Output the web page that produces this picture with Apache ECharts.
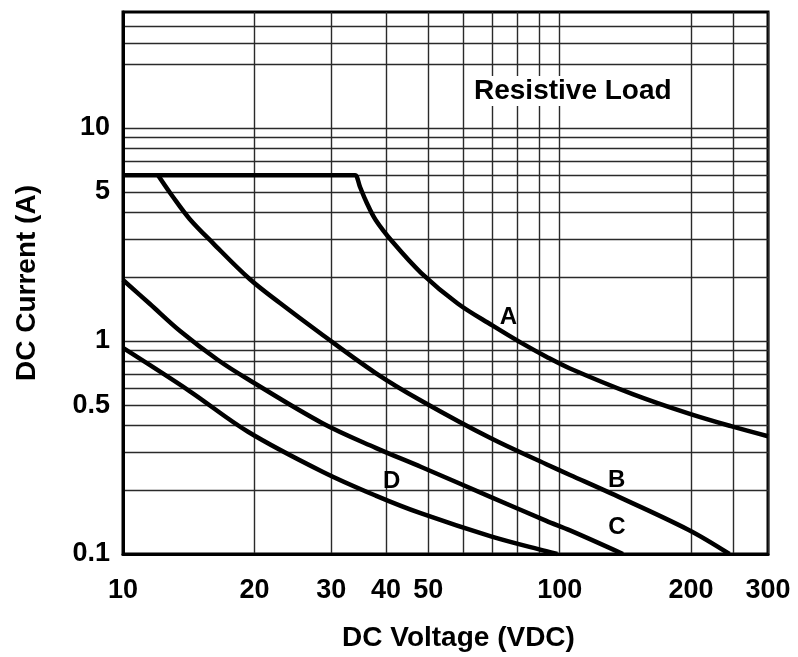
<!DOCTYPE html>
<html>
<head>
<meta charset="utf-8">
<script src="https://cdn.jsdelivr.net/npm/echarts@6/dist/echarts.min.js"></script>
<style>
  html, body { margin: 0; padding: 0; background: #fff; }
  #chart { width: 798px; height: 657px; }
</style>
</head>
<body>
<div id="chart"></div>
<script>
// DC switching capacity, resistive load: current (A) against voltage (VDC), log-log.

// Curve A (includes the 6 A ceiling from 10 V)
const curveA_V = [10, 33.1, 34.0, 34.9, 36.0, 37.9, 41.6, 48.2, 58.4, 70.1, 81.5, 93.2, 105.6, 147, 197, 246.8, 300];
const curveA_I = [6.0, 6.0, 6.0, 5.28, 4.54, 3.70, 2.89, 2.084, 1.50, 1.183, 0.982, 0.844, 0.743, 0.563, 0.457, 0.398, 0.357];

// Curve B
const curveB_V = [12.03, 13.02, 14.21, 16.07, 19.5, 22.88, 28.26, 37.9, 48.2, 69.6, 93.2, 105.6, 130.8, 197, 244.8];
const curveB_I = [6.0, 4.74, 3.74, 2.88, 1.954, 1.507, 1.09, 0.707, 0.524, 0.349, 0.264, 0.235, 0.193, 0.130, 0.1];

// Curve C
const curveC_V = [10, 11.53, 13.51, 16.5, 19.33, 28.63, 37.9, 48.2, 69.6, 93.2, 105.6, 139.6];
const curveC_I = [1.932, 1.491, 1.114, 0.814, 0.661, 0.411, 0.315, 0.256, 0.185, 0.143, 0.129, 0.1];

// Curve D
const curveD_V = [10, 14.2, 19.33, 28.63, 37.9, 48.2, 69.6, 93.2, 98.8];
const curveD_I = [0.927, 0.582, 0.375, 0.2434, 0.188, 0.155, 0.121, 0.103, 0.1];

// Axis grid and label values
const xGridValues = [10, 20, 30, 40, 50, 60, 70, 80, 90, 100, 200, 250, 300];
const xLabelValues = [10, 20, 30, 40, 50, 100, 200, 300];
const yGridValues = [0.1, 0.2, 0.3, 0.4, 0.5, 0.6, 0.7, 0.8, 0.9, 1, 2, 3, 4, 5, 6, 7, 8, 9, 10, 20, 25, 30];
const yLabelValues = [0.1, 0.5, 1, 5, 10];

const FONT = '"Liberation Sans", Arial, Helvetica, sans-serif';

function pairs(xs, ys) {
  return xs.map((x, i) => [x, ys[i]]);
}

// Curve letter placed next to one point of its own curve
function curveTag(name, xs, ys, idx, offset) {
  return {
    symbol: 'circle',
    symbolSize: 1,
    itemStyle: { color: 'rgba(0,0,0,0)' },
    label: {
      show: true,
      formatter: name,
      offset: offset,
      color: '#000',
      fontFamily: FONT,
      fontWeight: 'bold',
      fontSize: 24
    },
    data: [{ coord: [xs[idx], ys[idx]] }]
  };
}

function curveSeries(name, xs, ys, tag) {
  return {
    name: name,
    type: 'line',
    data: pairs(xs, ys),
    symbol: 'none',
    smooth: 0.35,
    lineStyle: { color: '#000', width: 4.5, cap: 'butt', join: 'round' },
    clip: true,
    z: 3,
    markPoint: tag,
    animation: false
  };
}

const chart = echarts.init(document.getElementById('chart'), null, { renderer: 'canvas' });

chart.setOption({
  animation: false,
  backgroundColor: '#fff',
  title: {
    text: 'Resistive Load',
    left: 469,
    top: 76,
    padding: [1, 5, 1, 5],
    backgroundColor: '#fff',
    textStyle: { fontFamily: FONT, fontWeight: 'bold', fontSize: 28, color: '#000' }
  },
  grid: {
    left: 123, right: 30, top: 12, bottom: 103,
    show: true,
    borderColor: '#000',
    borderWidth: 3,
    backgroundColor: '#fff'
  },
  xAxis: {
    type: 'log',
    logBase: 10,
    min: 10,
    max: 300,
    name: 'DC Voltage (VDC)',
    nameLocation: 'middle',
    nameGap: 70,
    nameTextStyle: {
      fontFamily: FONT, fontWeight: 'bold', fontSize: 28, color: '#000',
      padding: [0, 0, 0, 26]
    },
    axisLine: { show: true, lineStyle: { color: '#000', width: 3 } },
    axisTick: { show: false, customValues: xGridValues },
    axisLabel: {
      customValues: xLabelValues,
      margin: 23,
      fontFamily: FONT, fontWeight: 'bold', fontSize: 27, color: '#000',
      formatter: v => String(v)
    },
    splitLine: { show: true, lineStyle: { color: '#2a2a2a', width: 1.4 } },
    minorTick: { show: false },
    minorSplitLine: { show: false }
  },
  yAxis: {
    type: 'log',
    logBase: 10,
    min: 0.1,
    max: 35,
    name: 'DC Current (A)',
    nameLocation: 'middle',
    nameGap: 82,
    nameTextStyle: { fontFamily: FONT, fontWeight: 'bold', fontSize: 28, color: '#000' },
    axisLine: { show: true, lineStyle: { color: '#000', width: 3 } },
    axisTick: { show: false, customValues: yGridValues },
    axisLabel: {
      customValues: yLabelValues,
      margin: 13,
      fontFamily: FONT, fontWeight: 'bold', fontSize: 27, color: '#000',
      formatter: v => String(v)
    },
    splitLine: { show: true, lineStyle: { color: '#2a2a2a', width: 1.4 } },
    minorTick: { show: false },
    minorSplitLine: { show: false }
  },
  series: [
    curveSeries('A', curveA_V, curveA_I, curveTag('A', curveA_V, curveA_I, 9, [16, -8])),
    curveSeries('B', curveB_V, curveB_I, curveTag('B', curveB_V, curveB_I, 12, [6, -13])),
    curveSeries('C', curveC_V, curveC_I, curveTag('C', curveC_V, curveC_I, 11, [-6, -27])),
    curveSeries('D', curveD_V, curveD_I, curveTag('D', curveD_V, curveD_I, 4, [16, -14]))
  ]
});
</script>
</body>
</html>
